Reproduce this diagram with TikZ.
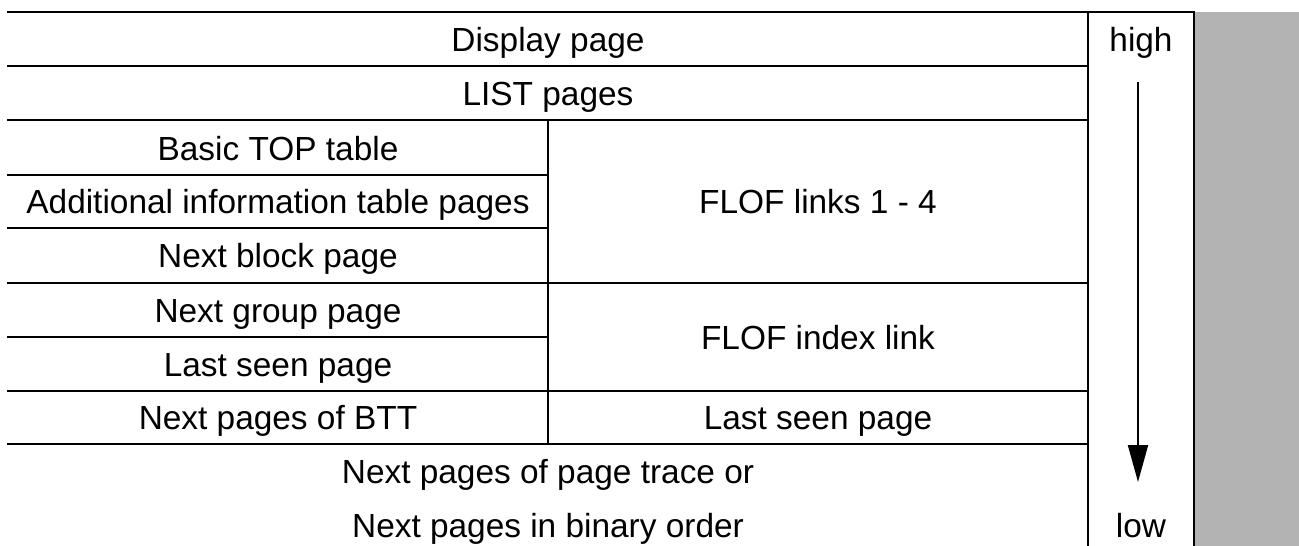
\documentclass[tikz,border=0pt]{standalone}
\usepackage{fontspec}
\setmainfont{Liberation Sans}
\usetikzlibrary{arrows.meta}
\definecolor{bandgrey}{RGB}{179,179,179}
\begin{document}
\begin{tikzpicture}[x=1pt,y=-1pt,
  rule/.style={line width=2.2pt,line cap=rect},
  lbl/.style={anchor=base,inner sep=0pt,font=\fontsize{33.4}{40}\selectfont}]
\useasboundingbox (0,0) rectangle (1299,546);
\fill[fill=bandgrey] (1194,12) rectangle (1299,546);
% horizontal rules
\draw[rule] (8,12) -- (1194,12);
\draw[rule] (8,66) -- (1088,66);
\draw[rule] (8,120) -- (1088,120);
\draw[rule] (8,175) -- (548,175);
\draw[rule] (8,228) -- (548,228);
\draw[rule] (8,283) -- (1088,283);
\draw[rule] (8,337) -- (548,337);
\draw[rule] (8,391) -- (1088,391);
\draw[rule] (8,444) -- (1088,444);
% vertical rules
\draw[rule] (548,120) -- (548,444);
\draw[line width=2.2pt] (1088,12) -- (1088,546);
\draw[line width=2.2pt] (1194,12) -- (1194,546);
% texts
\node[lbl] (disp) at (548,51) {Display page};
\node[lbl] (list) at (548,105) {LIST pages};
\node[lbl] (top) at (278,160) {Basic TOP table};
\node[lbl] (add) at (278,213.5) {Additional information table pages};
\node[lbl] (blk) at (278,267.5) {Next block page};
\node[lbl] (grp) at (278,322) {Next group page};
\node[lbl] (last1) at (278,376) {Last seen page};
\node[lbl] (btt) at (278,429.5) {Next pages of BTT};
\node[lbl] (flof) at (818,213.5) {FLOF links 1 - 4};
\node[lbl] (idx) at (818,349) {FLOF index link};
\node[lbl] (last2) at (818,429.5) {Last seen page};
\node[lbl] (trace) at (548,483) {Next pages of page trace or};
\node[lbl] (bin) at (548,537) {Next pages in binary order};
\node[lbl] (high) at (1141,51) {high};
\node[lbl] (low) at (1141,537) {low};
% arrow
\coordinate (a1) at (1138,82);
\coordinate (a2) at (1138,482);
\draw[line width=2pt,-{Triangle[length=37pt,width=20pt]}] (a1) -- (a2);
\end{tikzpicture}
\end{document}
